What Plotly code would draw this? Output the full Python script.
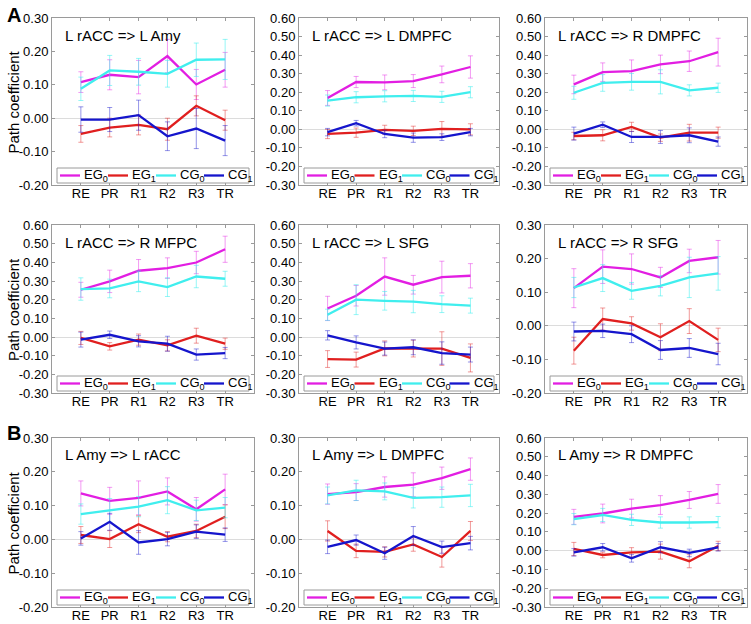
import plotly.graph_objects as go

W, H = 751, 624

categories = ["RE", "PR", "R1", "R2", "R3", "TR"]
series_names = ["EG<sub>0</sub>", "EG<sub>1</sub>", "CG<sub>0</sub>", "CG<sub>1</sub>"]
panel_titles = [
    "L rACC => L Amy", "L rACC => L DMPFC", "L rACC => R DMPFC",
    "L rACC => R MFPC", "L rACC => L SFG", "L rACC => R SFG",
    "L Amy => L rACC", "L Amy => L DMPFC", "L Amy => R DMPFC",
]
y_ranges = [
    (-0.2, 0.3), (-0.3, 0.6), (-0.3, 0.6),
    (-0.3, 0.6), (-0.3, 0.6), (-0.2, 0.3),
    (-0.2, 0.3), (-0.2, 0.3), (-0.3, 0.6),
]

# values per panel: [EG0, EG1, CG0, CG1]
p1_vals = [[0.108, 0.130, 0.123, 0.186, 0.101, 0.145],
           [-0.047, -0.028, -0.020, -0.033, 0.037, -0.006],
           [0.088, 0.143, 0.139, 0.133, 0.175, 0.176],
           [-0.004, -0.004, 0.009, -0.054, -0.031, -0.067]]
p1_errs = [[0.031, 0.045, 0.050, 0.050, 0.045, 0.052],
           [0.025, 0.028, 0.030, 0.033, 0.030, 0.030],
           [0.035, 0.045, 0.040, 0.040, 0.050, 0.060],
           [0.038, 0.036, 0.045, 0.043, 0.060, 0.045]]

p2_vals = [[0.169, 0.255, 0.253, 0.260, 0.296, 0.336],
           [-0.025, -0.018, -0.003, -0.008, 0.002, 0.000],
           [0.155, 0.173, 0.178, 0.180, 0.175, 0.200],
           [-0.015, 0.033, -0.025, -0.045, -0.042, -0.015]]
p2_errs = [[0.040, 0.030, 0.040, 0.035, 0.045, 0.060],
           [0.025, 0.025, 0.025, 0.025, 0.040, 0.030],
           [0.030, 0.030, 0.030, 0.030, 0.030, 0.030],
           [0.020, 0.015, 0.020, 0.025, 0.018, 0.020]]

p3_vals = [[0.242, 0.308, 0.314, 0.350, 0.367, 0.416],
           [-0.036, -0.032, 0.013, -0.045, -0.018, -0.018],
           [0.197, 0.250, 0.256, 0.256, 0.210, 0.224],
           [-0.023, 0.025, -0.041, -0.041, -0.032, -0.066]]
p3_errs = [[0.050, 0.050, 0.060, 0.050, 0.055, 0.075],
           [0.020, 0.030, 0.025, 0.020, 0.045, 0.030],
           [0.035, 0.045, 0.045, 0.065, 0.030, 0.025],
           [0.035, 0.015, 0.030, 0.035, 0.040, 0.025]]

p4_vals = [[0.253, 0.298, 0.355, 0.369, 0.399, 0.470],
           [-0.005, -0.050, -0.014, -0.045, 0.007, -0.036],
           [0.257, 0.260, 0.298, 0.267, 0.324, 0.312],
           [-0.014, 0.012, -0.023, -0.036, -0.094, -0.086]]
p4_errs = [[0.040, 0.060, 0.060, 0.055, 0.060, 0.070],
           [0.035, 0.020, 0.030, 0.030, 0.040, 0.030],
           [0.060, 0.050, 0.055, 0.050, 0.060, 0.040],
           [0.040, 0.020, 0.030, 0.040, 0.030, 0.030]]

p5_vals = [[0.153, 0.221, 0.324, 0.280, 0.321, 0.328],
           [-0.118, -0.121, -0.061, -0.062, -0.062, -0.112],
           [0.119, 0.200, 0.194, 0.190, 0.176, 0.168],
           [0.009, -0.029, -0.062, -0.055, -0.086, -0.094]]
p5_errs = [[0.065, 0.055, 0.100, 0.050, 0.085, 0.065],
           [0.045, 0.040, 0.040, 0.045, 0.090, 0.075],
           [0.030, 0.080, 0.050, 0.060, 0.045, 0.040],
           [0.025, 0.035, 0.035, 0.040, 0.060, 0.040]]

p6_vals = [[0.112, 0.176, 0.169, 0.144, 0.193, 0.204],
           [-0.074, 0.020, 0.007, -0.034, 0.014, -0.042],
           [0.114, 0.142, 0.104, 0.119, 0.144, 0.156],
           [-0.017, -0.015, -0.025, -0.072, -0.066, -0.084]]
p6_errs = [[0.058, 0.050, 0.045, 0.030, 0.035, 0.050],
           [0.040, 0.033, 0.020, 0.040, 0.037, 0.035],
           [0.030, 0.040, 0.025, 0.030, 0.060, 0.050],
           [0.028, 0.020, 0.025, 0.028, 0.028, 0.032]]

p7_vals = [[0.136, 0.114, 0.123, 0.142, 0.089, 0.148],
           [0.013, 0.001, 0.045, 0.008, 0.025, 0.067],
           [0.075, 0.086, 0.097, 0.116, 0.086, 0.094],
           [0.003, 0.052, -0.009, 0.001, 0.023, 0.014]]
p7_errs = [[0.037, 0.040, 0.050, 0.040, 0.035, 0.045],
           [0.025, 0.025, 0.025, 0.015, 0.020, 0.035],
           [0.030, 0.035, 0.030, 0.040, 0.030, 0.030],
           [0.020, 0.025, 0.035, 0.020, 0.020, 0.020]]

p8_vals = [[0.134, 0.140, 0.155, 0.162, 0.181, 0.208],
           [0.025, -0.034, -0.037, -0.015, -0.052, 0.025],
           [0.130, 0.145, 0.142, 0.123, 0.125, 0.130],
           [-0.022, -0.002, -0.041, 0.010, -0.023, -0.011]]
p8_errs = [[0.030, 0.025, 0.030, 0.035, 0.033, 0.033],
           [0.030, 0.020, 0.015, 0.020, 0.030, 0.028],
           [0.025, 0.030, 0.025, 0.030, 0.030, 0.033],
           [0.020, 0.015, 0.018, 0.028, 0.018, 0.020]]

p9_vals = [[0.180, 0.198, 0.224, 0.243, 0.270, 0.302],
           [0.009, -0.023, -0.009, -0.005, -0.056, 0.025],
           [0.168, 0.190, 0.164, 0.150, 0.150, 0.152],
           [-0.009, 0.018, -0.041, 0.018, -0.012, 0.018]]
p9_errs = [[0.040, 0.050, 0.050, 0.050, 0.045, 0.050],
           [0.035, 0.015, 0.025, 0.040, 0.035, 0.025],
           [0.030, 0.035, 0.030, 0.030, 0.030, 0.030],
           [0.020, 0.020, 0.020, 0.030, 0.020, 0.020]]

all_vals = [p1_vals, p2_vals, p3_vals, p4_vals, p5_vals, p6_vals, p7_vals, p8_vals, p9_vals]
all_errs = [p1_errs, p2_errs, p3_errs, p4_errs, p5_errs, p6_errs, p7_errs, p8_errs, p9_errs]

# ---- styling ----
line_colors = ["#e21ee2", "#e01f1f", "#40eeee", "#1515cc"]
err_colors = ["rgba(226,30,226,0.45)", "rgba(224,31,31,0.45)",
              "rgba(64,238,238,0.55)", "rgba(21,21,204,0.45)"]
FONT = "Liberation Sans, Arial, sans-serif"
frame_col = "#9a9a9a"

col_px = [(52, 254), (299, 499), (545, 747)]
row_px = [(18, 185), (225, 393), (438, 607)]

fig = go.Figure()
shapes = []
annotations = []

for i in range(9):
    r, c = divmod(i, 3)
    k = "" if i == 0 else str(i + 1)
    xa, ya = "x" + k, "y" + k
    x0p, x1p = col_px[c]
    y0p, y1p = row_px[r]
    pw = x1p - x0p
    ph = y1p - y0p
    lo, hi = y_ranges[i]
    n_t = int(round((hi - lo) / 0.1)) + 1
    tv = [round(lo + 0.1 * j, 2) for j in range(n_t)]
    tt = [f"{v:.2f}" for v in tv]

    for s in range(4):
        fig.add_trace(go.Scatter(
            x=categories, y=all_vals[i][s], xaxis=xa, yaxis=ya,
            mode="lines", showlegend=False,
            line=dict(color=line_colors[s], width=2.3),
            error_y=dict(type="data", array=all_errs[i][s], visible=True,
                         color=err_colors[s], thickness=1, width=2.5),
        ))

    fig.layout["xaxis" + k] = dict(
        domain=[x0p / W, x1p / W], anchor=ya, type="category", automargin=False,
        range=[-1, 6], showline=True, linecolor=frame_col, linewidth=1,
        mirror="ticks", ticks="inside", ticklen=3, tickcolor=frame_col,
        showgrid=False, zeroline=False, fixedrange=True, ticklabelstandoff=-4,
        tickfont=dict(family=FONT, size=13, color="black"),
    )
    fig.layout["yaxis" + k] = dict(
        domain=[1 - y1p / H, 1 - y0p / H], anchor=xa, automargin=False,
        range=[lo, hi], tickvals=tv, ticktext=tt,
        showline=True, linecolor=frame_col, linewidth=1,
        mirror="ticks", ticks="inside", ticklen=3, tickcolor=frame_col,
        showgrid=False, zeroline=True, zerolinecolor="#dcdcdc", zerolinewidth=1,
        fixedrange=True, tickfont=dict(family=FONT, size=13, color="black"),
    )

    # panel title
    annotations.append(dict(
        xref=xa + " domain", yref=ya + " domain", x=11 / pw, y=1 - 17 / ph,
        xanchor="left", yanchor="middle", text=panel_titles[i], showarrow=False,
        font=dict(family=FONT, size=15, color="black"),
    ))

    # legend box (drawn relative to the axis domain)
    bx0, bx1 = 5 / pw, 1 - 5 / pw
    by0, by1 = 2 / ph, 17 / ph
    shapes.append(dict(type="rect", xref=xa + " domain", yref=ya + " domain",
                       x0=bx0, x1=bx1, y0=by0, y1=by1, layer="above",
                       line=dict(color=frame_col, width=1), fillcolor="white"))
    ymid = (by0 + by1) / 2
    step = (pw - 10) / 4
    for s in range(4):
        lx0 = (8 + s * step) / pw
        lx1 = (8 + s * step + 20) / pw
        shapes.append(dict(type="line", xref=xa + " domain", yref=ya + " domain",
                           x0=lx0, x1=lx1, y0=ymid, y1=ymid, layer="above",
                           line=dict(color=line_colors[s], width=2.3)))
        annotations.append(dict(
            xref=xa + " domain", yref=ya + " domain", x=(8 + s * step + 22) / pw,
            y=ymid, xanchor="left", yanchor="middle", text=series_names[s],
            showarrow=False, font=dict(family=FONT, size=13, color="black"),
        ))

    if c == 0:
        annotations.append(dict(
            xref=xa + " domain", yref=ya + " domain", x=0, y=0.5,
            xanchor="center", yanchor="middle", xshift=-39,
            text="Path coefficient", textangle=-90, showarrow=False,
            font=dict(family=FONT, size=15, color="black"),
        ))

# panel letters
annotations.append(dict(xref="paper", yref="paper", x=5 / W, y=1 - 15 / H,
                        xanchor="left", yanchor="middle", text="<b>A</b>",
                        showarrow=False, font=dict(family=FONT, size=20, color="black")))
annotations.append(dict(xref="paper", yref="paper", x=5 / W, y=1 - 433 / H,
                        xanchor="left", yanchor="middle", text="<b>B</b>",
                        showarrow=False, font=dict(family=FONT, size=20, color="black")))

fig.update_layout(
    template="none",
    width=W, height=H, autosize=False,
    margin=dict(l=0, r=0, t=0, b=0),
    paper_bgcolor="white", plot_bgcolor="white",
    shapes=shapes, annotations=annotations, showlegend=False,
    font=dict(family=FONT),
)

fig.write_html(
    "out.html",
    config={"displayModeBar": False},
    post_script="document.body.style.margin='0';document.body.style.overflow='hidden';",
)
